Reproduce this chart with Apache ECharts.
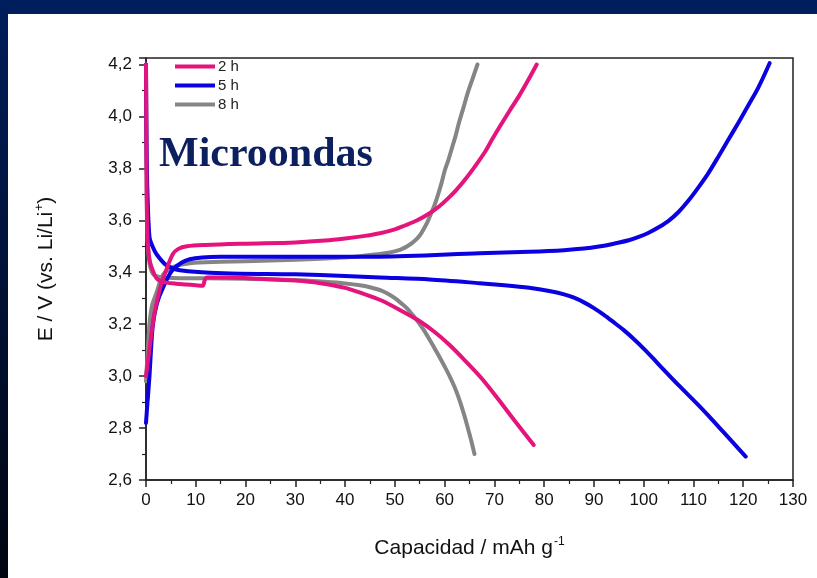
<!DOCTYPE html>
<html>
<head>
<meta charset="utf-8">
<script src="https://cdn.jsdelivr.net/npm/echarts@6/dist/echarts.min.js"></script>
<style>
html,body{margin:0;padding:0;background:#fff;}
#c{width:817px;height:578px;}
</style>
</head>
<body>
<div id="c"></div>
<script>
// Tick labels
const xTicks = [0,10,20,30,40,50,60,70,80,90,100,110,120,130];
const yTicks = [2.6,2.8,3.0,3.2,3.4,3.6,3.8,4.0,4.2];
const legendNames = ['2 h','5 h','8 h'];

// 2 h
const charge2h = [[0,3.0],[0.4,3.06],[0.8,3.12],[1.5,3.22],[2.1,3.28],[3,3.35],[4.1,3.41],[5.4,3.47],[6.5,3.49],[8.2,3.5],[12,3.505],[20,3.51],[30,3.515],[36,3.522],[40,3.53],[44,3.54],[47,3.55],[50,3.565],[52,3.58],[54.5,3.6],[57,3.627],[59,3.655],[61,3.69],[62.5,3.72],[64,3.754],[66,3.805],[68,3.86],[69.5,3.91],[71,3.958],[73,4.02],[75,4.08],[76.8,4.14],[78.5,4.2]];
const discharge2h = [[0,4.2],[0.05,4.0],[0.1,3.8],[0.2,3.6],[0.4,3.5],[0.8,3.44],[1.5,3.4],[2.1,3.377],[3,3.365],[4.1,3.36],[6,3.356],[8,3.353],[10,3.35],[11.4,3.348],[11.8,3.37],[12.2,3.38],[16,3.38],[23,3.375],[30,3.368],[35,3.358],[40,3.34],[44,3.315],[47.2,3.292],[51,3.255],[54.7,3.215],[58,3.17],[61,3.12],[64,3.062],[67.5,2.99],[70.9,2.908],[74,2.83],[77.9,2.735]];
// 5 h
const charge5h = [[0,2.82],[0.3,2.9],[0.7,3.0],[1.0,3.1],[1.4,3.2],[2.2,3.28],[3.4,3.34],[5.4,3.41],[8.8,3.45],[15,3.46],[30,3.46],[47,3.46],[67,3.473],[77,3.479],[84,3.485],[88,3.491],[91,3.499],[94,3.51],[97,3.523],[99,3.536],[101,3.552],[103,3.573],[105,3.598],[107,3.632],[109,3.676],[111,3.727],[113,3.782],[115,3.845],[117,3.91],[119,3.975],[121,4.042],[123,4.11],[125.3,4.205]];
const discharge5h = [[0,4.2],[0.1,3.9],[0.3,3.7],[0.7,3.535],[1.3,3.5],[2.1,3.47],[4.1,3.427],[6.8,3.408],[15.5,3.396],[30,3.392],[40,3.386],[47,3.38],[57,3.372],[67,3.358],[72,3.35],[77,3.34],[81,3.328],[84,3.315],[86,3.302],[88,3.284],[90,3.262],[92,3.236],[94,3.207],[96,3.177],[98,3.143],[100,3.106],[102,3.066],[104,3.025],[107,2.965],[110.6,2.896],[113,2.848],[116,2.785],[118,2.743],[120.5,2.69]];
// 8 h
const charge8h = [[0,2.98],[0.3,3.08],[0.7,3.2],[1.2,3.27],[2.1,3.32],[3.4,3.39],[5.4,3.42],[8.8,3.435],[15,3.44],[25,3.445],[35,3.452],[42,3.46],[47,3.47],[49,3.476],[50.5,3.483],[51.5,3.49],[52.5,3.5],[53.5,3.513],[54.5,3.53],[55.3,3.55],[56,3.573],[56.7,3.6],[57.3,3.627],[58,3.66],[58.7,3.7],[59.4,3.745],[60,3.79],[60.8,3.835],[61.5,3.88],[62.2,3.925],[62.8,3.97],[63.8,4.035],[64.8,4.1],[65.7,4.15],[66.6,4.2]];
const discharge8h = [[0,4.2],[0.1,3.8],[0.3,3.55],[0.6,3.45],[1.2,3.4],[2.1,3.385],[5.4,3.378],[11.5,3.377],[20,3.375],[30,3.37],[36,3.363],[40,3.357],[43,3.35],[45,3.342],[47.2,3.33],[48.6,3.317],[50,3.3],[51.3,3.28],[52.5,3.26],[53.6,3.235],[54.7,3.208],[55.9,3.175],[57,3.14],[58.2,3.1],[59.3,3.062],[60.2,3.03],[61,3.0],[62,2.958],[62.8,2.918],[63.7,2.865],[64.5,2.812],[65.3,2.755],[66,2.7]];

const colors = {'2 h':'#e4147c','5 h':'#0a00e0','8 h':'#858585'};

function mk(name, data, z){
  return {name:name, type:'line', data:data, showSymbol:false, symbol:'none',
    smooth:0.3, z:z, clip:true,
    lineStyle:{width:4, color:colors[name], cap:'round', join:'round'}, itemStyle:{color:colors[name]}};
}

const chart = echarts.init(document.getElementById('c'), null, {renderer:'canvas'});
chart.setOption({
  animation:false,
  backgroundColor:'#ffffff',
  graphic:[
    {type:'rect', shape:{x:0,y:0,width:817,height:14}, style:{fill:'#001e5c'}, z:100},
    {type:'rect', shape:{x:0,y:0,width:8,height:578}, style:{fill:new echarts.graphic.LinearGradient(0,0,0,1,[{offset:0,color:'#001e5c'},{offset:1,color:'#000510'}])}, z:100},
    {type:'text', left:159, top:134, z:100, style:{text:'Microondas', font:'bold 42px "Liberation Serif", "Times New Roman", serif', fill:'#0c1f5e'}}
  ],
  grid:{left:146, right:24, top:58, bottom:98, show:true, borderColor:'#222', borderWidth:1.5, backgroundColor:'#fff'},
  legend:{
    data:legendNames, orient:'vertical', left:175, top:59, icon:'rect', itemWidth:40, itemHeight:4, itemGap:4,
    padding:0, textStyle:{fontSize:15, color:'#222', fontFamily:'Liberation Sans, Arial', padding:[0,0,0,-2]}
  },
  xAxis:{
    type:'value', min:0, max:130, interval:10,
    axisLine:{show:true, lineStyle:{color:'#222', width:1.5}},
    axisTick:{show:true, inside:false, length:7, lineStyle:{color:'#222', width:1.5}},
    minorTick:{show:true, splitNumber:2, length:4, lineStyle:{color:'#222', width:1.2}},
    splitLine:{show:false},
    axisLabel:{fontSize:17, color:'#111', fontFamily:'Liberation Sans, Arial', margin:12,
      formatter:function(v){return xTicks.indexOf(v)>=0 ? String(v) : '';}},
    name:'Capacidad / mAh g{sup|-1}', nameLocation:'middle', nameGap:56,
    nameTextStyle:{fontSize:21, color:'#111', fontFamily:'Liberation Sans, Arial',
      rich:{sup:{fontSize:12, color:'#111', fontFamily:'Liberation Sans, Arial', padding:[0,0,12,1]}}}
  },
  yAxis:{
    type:'value', min:2.6, max:4.225, interval:0.2,
    axisLine:{show:true, lineStyle:{color:'#222', width:1.5}},
    axisTick:{show:true, inside:false, length:7, lineStyle:{color:'#222', width:1.5}},
    minorTick:{show:true, splitNumber:2, length:4, lineStyle:{color:'#222', width:1.2}},
    splitLine:{show:false},
    axisLabel:{fontSize:17, color:'#111', fontFamily:'Liberation Sans, Arial', margin:14, showMaxLabel:false,
      formatter:function(v){
        const r = Math.round(v*10)/10;
        const ok = yTicks.some(t=>Math.abs(t-v)<1e-6);
        return ok ? r.toFixed(1).replace('.',',') : '';
      }},
    name:'E / V (vs. Li/Li{sup|+})', nameLocation:'middle', nameGap:88,
    nameTextStyle:{fontSize:21, color:'#111', fontFamily:'Liberation Sans, Arial',
      rich:{sup:{fontSize:12, color:'#111', fontFamily:'Liberation Sans, Arial', padding:[0,0,12,1]}}}
  },
  series:[
    mk('8 h', charge8h, 2), mk('8 h', discharge8h, 2),
    mk('5 h', charge5h, 3), mk('5 h', discharge5h, 3),
    mk('2 h', charge2h, 4), mk('2 h', discharge2h, 4)
  ]
});
</script>
</body>
</html>
